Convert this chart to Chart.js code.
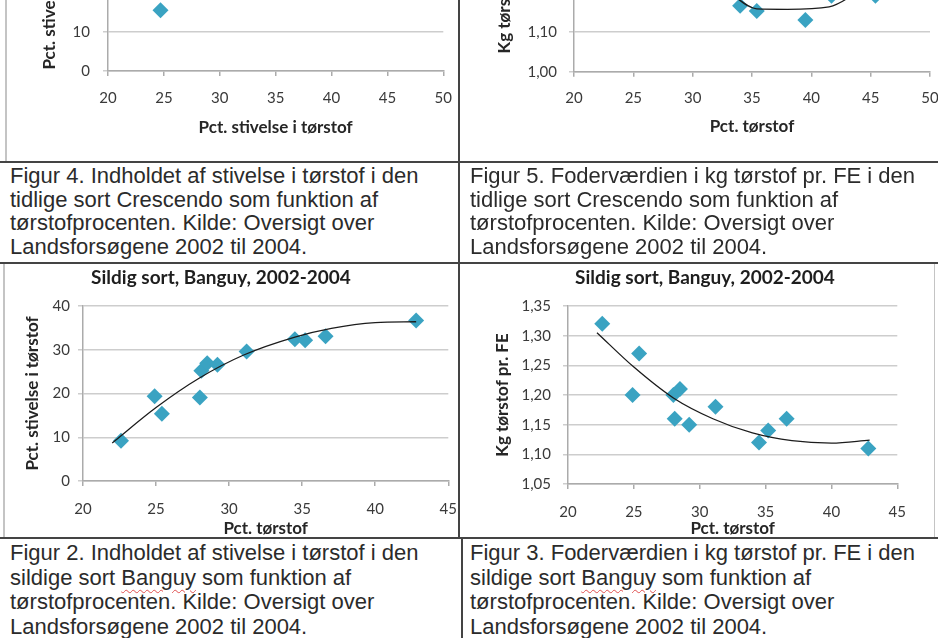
<!DOCTYPE html>
<html>
<head>
<meta charset="utf-8">
<script src="https://cdn.jsdelivr.net/npm/chart.js@4.4.1/dist/chart.umd.min.js"></script>
<style>
  html, body { margin: 0; padding: 0; background: #fff; }
  #page { position: relative; width: 938px; height: 638px; overflow: hidden; background: #fff; }
  canvas { position: absolute; }
  .rule { position: absolute; background: #444; }
  .soft { position: absolute; background: #c4c4c4; }
  .caption {
    position: absolute; white-space: nowrap; color: #2b2b2b;
    font-family: 'Liberation Sans', Arial, sans-serif; font-size: 22px;
  }
  .spell { text-decoration: underline wavy #e05050; text-decoration-thickness: 1px; text-underline-offset: 4px; }
</style>
</head>
<body>
<div id="page">
  <canvas id="earlyStarch" width="456" height="290" style="left:9px; top:-130px"></canvas>
  <canvas id="earlyFeed" width="500" height="290" style="left:461px; top:-130px"></canvas>
  <canvas id="lateStarch" width="500" height="273" style="left:-29px; top:264px"></canvas>
  <canvas id="lateFeed" width="430" height="273" style="left:490px; top:264px"></canvas>

  <div class="soft" style="left:5px; top:0; width:2px; height:162px"></div>
  <div class="soft" style="left:3px; top:263px; width:2px; height:275px"></div>
  <div class="soft" style="left:934px; top:263px; width:1px; height:275px"></div>

  <div class="rule" style="left:0; top:161px; width:938px; height:2px"></div>
  <div class="rule" style="left:0; top:262px; width:938px; height:2px"></div>
  <div class="rule" style="left:0; top:537px; width:938px; height:2px"></div>
  <div class="rule" style="left:458px; top:0; width:2px; height:538px"></div>
  <div class="rule" style="left:461px; top:538px; width:2px; height:100px"></div>

  <div class="caption" style="left:10px; top:164px; line-height:23.5px">
    Figur 4. Indholdet af stivelse i tørstof i den<br>tidlige sort Crescendo som funktion af<br>tørstofprocenten. Kilde: Oversigt over<br>Landsforsøgene 2002 til 2004.
  </div>
  <div class="caption" style="left:470px; top:164px; line-height:23.5px">
    Figur 5. Foderværdien i kg tørstof pr. FE i den<br>tidlige sort Crescendo som funktion af<br>tørstofprocenten. Kilde: Oversigt over<br>Landsforsøgene 2002 til 2004.
  </div>
  <div class="caption" style="left:10px; top:541px; line-height:24.6px">
    Figur 2. Indholdet af stivelse i tørstof i den<br>sildige sort <span class="spell">Banguy</span> som funktion af<br>tørstofprocenten. Kilde: Oversigt over<br>Landsforsøgene 2002 til 2004.
  </div>
  <div class="caption" style="left:470px; top:541px; line-height:24.6px">
    Figur 3. Foderværdien i kg tørstof pr. FE i den<br>sildige sort <span class="spell">Banguy</span> som funktion af<br>tørstofprocenten. Kilde: Oversigt over<br>Landsforsøgene 2002 til 2004.
  </div>
</div>

<script>
// Sildig sort (Banguy), 2002-2004
const dryMatterLate = [22.6, 24.9, 25.4, 28.0, 28.1, 28.5, 29.2, 31.2, 34.5, 35.2, 36.6, 42.8];
const starchLate = [9.2, 19.4, 15.4, 19.1, 25.2, 26.9, 26.6, 29.6, 32.4, 32.2, 33.1, 36.7];
const feedLate = [1.32, 1.20, 1.27, 1.20, 1.16, 1.21, 1.15, 1.18, 1.12, 1.14, 1.16, 1.11];

// Trend lines
const starchTrendX = [22, 25, 28, 31, 34.5, 37, 40, 42.8];
const starchTrendY = [8.7, 16.8, 23.6, 28.8, 32.9, 34.9, 36.2, 36.4];
const feedTrendX = [22.2, 25, 28, 31, 34, 37, 40, 42.9];
const feedTrendY = [1.305, 1.247, 1.195, 1.160, 1.136, 1.123, 1.119, 1.124];

// Tidlig sort (Crescendo), only the visible lower part
const dryMatterEarlyStarch = [24.7];
const starchEarly = [15.5];
const dryMatterEarlyFeed = [34.0, 35.4, 39.5, 41.7, 45.4];
const feedEarly = [1.165, 1.152, 1.129, 1.19, 1.19];
const earlyFeedTrendX = [33, 35.4, 38, 41.5, 44];
const earlyFeedTrendY = [1.20, 1.157, 1.156, 1.162, 1.20];

// Tick values
const xTicksEarly = [20, 25, 30, 35, 40, 45, 50];
const xTicksLate = [20, 25, 30, 35, 40, 45];
const starchTicks = [0, 10, 20, 30, 40];
const feedTicksEarly = [1.00, 1.10, 1.20, 1.30, 1.40];
const feedTicksLate = [1.05, 1.10, 1.15, 1.20, 1.25, 1.30, 1.35];

const markerColor = '#3aa3c2';
const gridColor = '#cdcdcd';
const axisColor = '#ababab';
const fontFamily = 'Lato, "Noto Sans", sans-serif';

const toPoints = (xs, ys) => xs.map((x, i) => ({ x: x, y: ys[i] }));
const fmtInt = v => String(v);
const fmtComma = v => v.toFixed(2).replace('.', ',');

// Build one scatter chart with optional trend line
const makeScatter = (id, c) => {
    const datasets = [];
    if (c.trendX) {
        datasets.push({
            type: 'line',
            data: toPoints(c.trendX, c.trendY),
            borderColor: '#1c1c1c',
            borderWidth: 1.3,
            pointRadius: 0,
            tension: 0.4,
            cubicInterpolationMode: 'monotone',
            fill: false,
            order: 0
        });
    }
    datasets.push({
        data: toPoints(c.xs, c.ys),
        pointStyle: 'rectRot',
        pointRadius: 8,
        backgroundColor: markerColor,
        borderColor: markerColor,
        borderWidth: 0,
        order: 1
    });

    return new Chart(document.getElementById(id), {
        type: 'scatter',
        data: { datasets: datasets },
        options: {
            responsive: false,
            animation: false,
            devicePixelRatio: 1,
            layout: { padding: c.padding },
            plugins: {
                legend: { display: false },
                tooltip: { enabled: false },
                title: c.title ? {
                    display: true,
                    text: c.title,
                    color: '#1e1e1e',
                    font: { family: fontFamily, size: 19, weight: 'bold' },
                    padding: { top: 2.6, bottom: 16.6 }
                } : { display: false }
            },
            scales: {
                x: {
                    type: 'linear',
                    min: c.xTicks[0],
                    max: c.xTicks[c.xTicks.length - 1],
                    afterBuildTicks: s => { s.ticks = c.xTicks.map(v => ({ value: v })); },
                    afterFit: s => { s.height = c.xHeight; },
                    ticks: {
                        color: '#3a3a3a',
                        font: { family: fontFamily, size: 15 },
                        padding: c.xTickPad,
                        maxRotation: 0
                    },
                    grid: { drawOnChartArea: false, drawTicks: true, tickLength: 5, color: axisColor, lineWidth: 1.5 },
                    border: { color: axisColor, width: 1.5 },
                    title: {
                        display: true,
                        text: c.xTitle,
                        color: '#262626',
                        font: { family: fontFamily, size: 17, weight: 'bold' },
                        padding: { top: 0, bottom: c.xTitlePad }
                    }
                },
                y: {
                    type: 'linear',
                    min: c.yTicks[0],
                    max: c.yTicks[c.yTicks.length - 1],
                    afterBuildTicks: s => { s.ticks = c.yTicks.map(v => ({ value: v })); },
                    afterFit: s => { s.width = c.yWidth; },
                    ticks: {
                        color: '#3a3a3a',
                        font: { family: fontFamily, size: 15 },
                        padding: c.yTickPad,
                        callback: c.fmt
                    },
                    grid: { drawOnChartArea: true, drawTicks: true, tickLength: 5, color: gridColor, lineWidth: 1.5 },
                    border: { color: axisColor, width: 1.5 },
                    title: {
                        display: true,
                        text: c.yTitle,
                        color: '#262626',
                        font: { family: fontFamily, size: 17, weight: 'bold' },
                        padding: { top: c.yTitlePad, bottom: 0 }
                    }
                }
            }
        }
    });
};

makeScatter('earlyStarch', {
    xs: dryMatterEarlyStarch, ys: starchEarly,
    xTicks: xTicksEarly, yTicks: starchTicks, fmt: fmtInt,
    xTitle: 'Pct. stivelse i tørstof', yTitle: 'Pct. stivelse i tørstof',
    padding: { left: 0, right: 21, top: 44, bottom: 0 },
    xHeight: 89, xTickPad: 13, xTitlePad: 22.3,
    yWidth: 99, yTickPad: 13, yTitlePad: 30.8
});

makeScatter('earlyFeed', {
    xs: dryMatterEarlyFeed, ys: feedEarly,
    trendX: earlyFeedTrendX, trendY: earlyFeedTrendY,
    xTicks: xTicksEarly, yTicks: feedTicksEarly, fmt: fmtComma,
    xTitle: 'Pct. tørstof', yTitle: 'Kg tørstof pr. FE',
    padding: { left: 0, right: 31, top: 41.7, bottom: 0 },
    xHeight: 88.3, xTickPad: 12, xTitlePad: 23.1,
    yWidth: 113, yTickPad: 12, yTitlePad: 33.8
});

makeScatter('lateStarch', {
    xs: dryMatterLate, ys: starchLate,
    trendX: starchTrendX, trendY: starchTrendY,
    xTicks: xTicksLate, yTicks: starchTicks, fmt: fmtInt,
    title: 'Sildig sort, Banguy, 2002-2004',
    xTitle: 'Pct. tørstof', yTitle: 'Pct. stivelse i tørstof',
    padding: { left: 0, right: 0, top: 0, bottom: 0 },
    xHeight: 56, xTickPad: 14, xTitlePad: -2,
    yWidth: 112, yTickPad: 8, yTitlePad: 51.8
});

makeScatter('lateFeed', {
    xs: dryMatterLate, ys: feedLate,
    trendX: feedTrendX, trendY: feedTrendY,
    xTicks: xTicksLate, yTicks: feedTicksLate, fmt: fmtComma,
    title: 'Sildig sort, Banguy, 2002-2004',
    xTitle: 'Pct. tørstof', yTitle: 'Kg tørstof pr. FE',
    padding: { left: 0, right: 0, top: 0, bottom: 0 },
    xHeight: 53, xTickPad: 14, xTitlePad: -2,
    yWidth: 78, yTickPad: 12, yTitlePad: 2.8
});
</script>
</body>
</html>
